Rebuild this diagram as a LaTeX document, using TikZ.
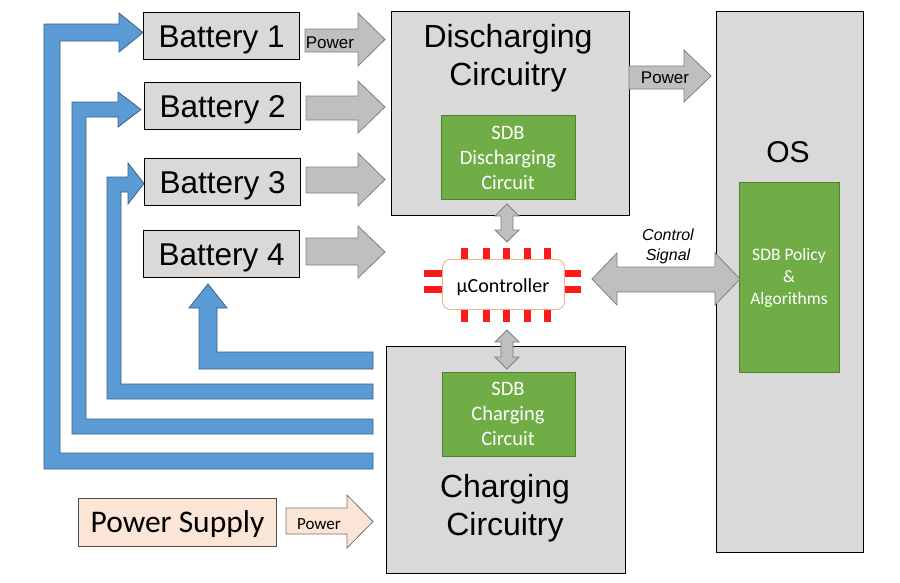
\documentclass[tikz,border=0pt]{standalone}
\usepackage{fontspec}
\setmainfont{Liberation Sans}
\newfontfamily\calfont{Carlito}
\definecolor{boxgray}{HTML}{D9D9D9}
\definecolor{arrgray}{HTML}{BFBFBF}
\definecolor{arrline}{HTML}{7F7F7F}
\definecolor{sdbgreen}{HTML}{70AD47}
\definecolor{sdbline}{HTML}{507E32}
\definecolor{bluefill}{HTML}{5B9BD5}
\definecolor{blueline}{HTML}{3A5F85}
\definecolor{peach}{HTML}{FBE5D6}
\definecolor{ucline}{HTML}{F4B183}
\definecolor{pinred}{HTML}{FF1A1A}
\begin{document}
\begin{tikzpicture}[x=1pt,y=-1pt,
  box/.style={draw=black,line width=1.3pt,fill=boxgray,inner sep=0pt,anchor=north west},
  gbox/.style={draw=sdbline,line width=0.8pt,fill=sdbgreen,inner sep=0pt,anchor=north west},
  batt/.style={box,minimum width=156pt,minimum height=47pt,text height=22.5pt,text depth=0pt,
     font=\fontsize{31.5}{36}\selectfont},
  bigtxt/.style={anchor=base,inner sep=0pt,font=\fontsize{32}{38}\selectfont},
  greentxt/.style={anchor=base,inner sep=0pt,text=white,font=\calfont\fontsize{20.5}{24}\selectfont},
  ostxt/.style={anchor=base,inner sep=0pt,text=white,font=\calfont\fontsize{17.5}{22}\selectfont},
  smalltxt/.style={anchor=base,inner sep=0pt,font=\fontsize{17}{20}\selectfont},
  garrow/.style={draw=arrline,line width=0.8pt,fill=arrgray,line join=miter},
  barrow/.style={draw=blueline,line width=0.8pt,fill=bluefill,line join=miter},
  pin/.style={fill=pinred,draw=none},
]
\useasboundingbox (0,0) rectangle (900,582);

% blue charging arrows
\draw[barrow] (44,469) -- (373,469) -- (373,453) -- (60,453) -- (60,41) -- (119,41) -- (119,52)
  -- (143,32.5) -- (119,13) -- (119,24) -- (44,24) -- cycle;
\draw[barrow] (72,434) -- (373,434) -- (373,419) -- (86,419) -- (86,117) -- (118,117) -- (118,127)
  -- (141,109.5) -- (118,92) -- (118,102) -- (72,102) -- cycle;
\draw[barrow] (107,399) -- (373,399) -- (373,384) -- (121,384) -- (121,192) -- (128,192) -- (128,204)
  -- (144,183.5) -- (128,163) -- (128,177) -- (107,177) -- cycle;
\draw[barrow] (199,369) -- (373,369) -- (373,352) -- (217,352) -- (217,308) -- (227,308)
  -- (208,284) -- (189,308) -- (199,308) -- cycle;

% batteries
\node[batt] (b1) at (143,12) {Battery 1};
\node[batt] (b2) at (144,82) {Battery 2};
\node[batt] (b3) at (144,158) {Battery 3};
\node[batt] (b4) at (143,230) {Battery 4};

% power arrows from batteries
\draw[garrow] (305,29) -- (358,29) -- (358,13) -- (385,39.5) -- (358,66) -- (358,52) -- (305,52) -- cycle;
\node[smalltxt] (pw1) at (330,48) {Power};
\draw[garrow] (306,96) -- (358,96) -- (358,81) -- (385,107) -- (358,133) -- (358,120) -- (306,120) -- cycle;
\draw[garrow] (306,167) -- (358,167) -- (358,153) -- (385,179.5) -- (358,206) -- (358,193) -- (306,193) -- cycle;
\draw[garrow] (306,238) -- (358,238) -- (358,226) -- (385,252) -- (358,278) -- (358,265) -- (306,265) -- cycle;

% discharging circuitry
\node[box,minimum width=238pt,minimum height=204pt] (dis) at (391,11) {};
\node[bigtxt] (dis1) at (508,47) {Discharging};
\node[bigtxt] (dis2) at (508,85) {Circuitry};
\node[gbox,minimum width=134pt,minimum height=84pt] (sdbd) at (441,115) {};
\node[greentxt] (sd1) at (508,139) {SDB};
\node[greentxt] (sd2) at (508,164) {Discharging};
\node[greentxt] (sd3) at (508,189) {Circuit};

% OS
\node[box,minimum width=147pt,minimum height=541pt] (os) at (716,11) {};
\node[anchor=base,inner sep=0pt,font=\fontsize{30}{36}\selectfont] (ostitle) at (788,162) {OS};
\node[gbox,minimum width=100pt,minimum height=190pt] (sdbp) at (739,182) {};
\node[ostxt] (sp1) at (789,260) {SDB Policy};
\node[ostxt] (sp2) at (789,282) {\&};
\node[ostxt] (sp3) at (789,304) {Algorithms};

% power to OS
\draw[garrow] (629,66) -- (684,66) -- (684,50) -- (711,76) -- (684,102) -- (684,89) -- (629,89) -- cycle;
\node[smalltxt] (pw2) at (665,83) {Power};

% charging circuitry
\node[box,minimum width=239pt,minimum height=227pt] (chg) at (386,346) {};
\node[gbox,minimum width=133pt,minimum height=84pt] (sdbc) at (442,372) {};
\node[greentxt] (sc1) at (508,395) {SDB};
\node[greentxt] (sc2) at (508,420) {Charging};
\node[greentxt] (sc3) at (508,445) {Circuit};
\node[bigtxt] (chg1) at (505,497) {Charging};
\node[bigtxt] (chg2) at (505,535) {Circuitry};

% microcontroller pins
\foreach \px in {464,486,506,527,547}{
  \fill[pin] (\px-3.5,248) rectangle (\px+3.5,260);
  \fill[pin] (\px-3.5,308) rectangle (\px+3.5,322);
}
\foreach \py in {273,289}{
  \fill[pin] (424,\py-3.5) rectangle (443,\py+3.5);
  \fill[pin] (563,\py-3.5) rectangle (581,\py+3.5);
}
\node[draw=ucline,line width=0.9pt,fill=white,rounded corners=8pt,inner sep=0pt,anchor=north west,
  minimum width=122pt,minimum height=50pt] (uc) at (442,259) {};
\node[anchor=base,inner sep=0pt,font=\calfont\fontsize{20}{24}\selectfont] (uctxt) at (503,292) {µController};

% double arrows
\draw[garrow] (507,204) -- (519,216) -- (513,216) -- (513,230) -- (519,230) -- (507,242)
  -- (495,230) -- (501,230) -- (501,216) -- (495,216) -- cycle;
\draw[garrow] (507,330) -- (519,342) -- (513,342) -- (513,357) -- (519,357) -- (507,369)
  -- (495,357) -- (501,357) -- (501,342) -- (495,342) -- cycle;
\draw[garrow] (592,279) -- (617,253) -- (617,267) -- (715,267) -- (715,253) -- (740,279)
  -- (715,305) -- (715,292) -- (617,292) -- (617,305) -- cycle;
\node[anchor=base,inner sep=0pt,font=\itshape\fontsize{16}{19}\selectfont] (cs1) at (668,240) {Control};
\node[anchor=base,inner sep=0pt,font=\itshape\fontsize{16}{19}\selectfont] (cs2) at (668,260) {Signal};

% power supply
\node[draw=black!70,line width=1pt,fill=peach,inner sep=0pt,anchor=north west,
  minimum width=198pt,minimum height=48pt,text height=20pt,text depth=0pt,
  font=\calfont\fontsize{31.5}{36}\selectfont] (ps) at (78,498) {Power Supply};
\draw[draw=black!55,line width=0.8pt,fill=peach,line join=miter] (286,508) -- (347,508) -- (347,495) -- (373,521.5)
  -- (347,548) -- (347,534) -- (286,534) -- cycle;
\node[anchor=base,inner sep=0pt,font=\calfont\fontsize{17}{20}\selectfont] (pw3) at (319,529) {Power};
\end{tikzpicture}
\end{document}
